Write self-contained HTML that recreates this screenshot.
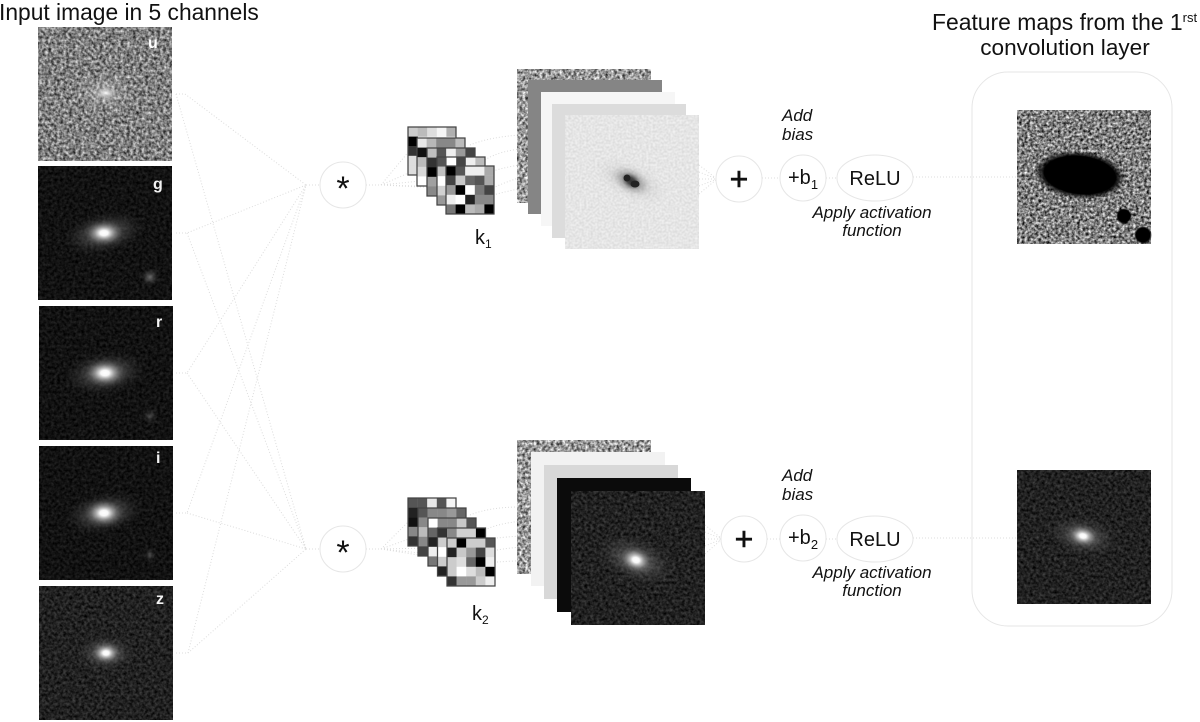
<!DOCTYPE html>
<html><head><meta charset="utf-8"><style>
html,body{margin:0;padding:0;background:#fff}
svg{display:block}
text{font-family:"Liberation Sans",sans-serif;fill:#111}
.c{width:1.02px;height:1.02px}
.d{stroke:#dcdcdc;stroke-width:1;stroke-dasharray:1 2;fill:none}
.o{fill:#fff;stroke:#e6e6e6;stroke-width:1}
.i{font-style:italic;font-size:17px}
.w{fill:#f4f4f4;font-weight:bold;font-size:16px}
.f{fill:none;stroke:#444;stroke-width:.13}
</style></head><body>
<svg width="1200" height="722" viewBox="0 0 1200 722" xmlns="http://www.w3.org/2000/svg">
<defs>
<filter id="nGray" x="0" y="0" width="1" height="1" color-interpolation-filters="sRGB"><feTurbulence type="fractalNoise" baseFrequency=".33" numOctaves="2" seed="3"/><feColorMatrix type="matrix" values="1.1 0 0 0 -.05 1.1 0 0 0 -.05 1.1 0 0 0 -.05 0 0 0 0 1"/></filter>
<filter id="nGray2" x="0" y="0" width="1" height="1" color-interpolation-filters="sRGB"><feTurbulence type="fractalNoise" baseFrequency=".35" numOctaves="2" seed="9"/><feColorMatrix type="matrix" values="1.3 0 0 0 -.05 1.3 0 0 0 -.05 1.3 0 0 0 -.05 0 0 0 0 1"/></filter>
<filter id="nDark" x="0" y="0" width="1" height="1" color-interpolation-filters="sRGB"><feTurbulence type="fractalNoise" baseFrequency=".33" numOctaves="2" seed="5"/><feColorMatrix type="matrix" values=".22 0 0 0 -.04 .22 0 0 0 -.04 .22 0 0 0 -.04 0 0 0 0 1"/></filter>
<filter id="nDark2" x="0" y="0" width="1" height="1" color-interpolation-filters="sRGB"><feTurbulence type="fractalNoise" baseFrequency=".33" numOctaves="2" seed="7"/><feColorMatrix type="matrix" values=".36 0 0 0 -.05 .36 0 0 0 -.05 .36 0 0 0 -.05 0 0 0 0 1"/></filter>
<filter id="nLight" x="0" y="0" width="1" height="1" color-interpolation-filters="sRGB"><feTurbulence type="fractalNoise" baseFrequency=".45" numOctaves="1" seed="11"/><feColorMatrix type="matrix" values=".16 0 0 0 .82 .16 0 0 0 .82 .16 0 0 0 .82 0 0 0 0 1"/></filter>
<filter id="nFeat" x="0" y="0" width="1" height="1" color-interpolation-filters="sRGB"><feTurbulence type="fractalNoise" baseFrequency=".36" numOctaves="2" seed="2"/><feColorMatrix type="matrix" values="1.4 0 0 0 -.2 1.4 0 0 0 -.2 1.4 0 0 0 -.2 0 0 0 0 1"/></filter>
<radialGradient id="glow"><stop offset="0" stop-color="#fff"/><stop offset=".2" stop-color="#fff" stop-opacity=".95"/><stop offset=".45" stop-color="#ccc" stop-opacity=".6"/><stop offset=".75" stop-color="#888" stop-opacity=".25"/><stop offset="1" stop-color="#555" stop-opacity="0"/></radialGradient>
<radialGradient id="halo"><stop offset="0" stop-color="#aaa" stop-opacity=".6"/><stop offset=".55" stop-color="#666" stop-opacity=".35"/><stop offset="1" stop-color="#333" stop-opacity="0"/></radialGradient>
<radialGradient id="blk"><stop offset="0" stop-color="#000"/><stop offset=".78" stop-color="#000"/><stop offset="1" stop-color="#000" stop-opacity="0"/></radialGradient>
<radialGradient id="dk"><stop offset="0" stop-color="#111"/><stop offset=".25" stop-color="#222" stop-opacity=".9"/><stop offset=".6" stop-color="#888" stop-opacity=".3"/><stop offset="1" stop-color="#aaa" stop-opacity="0"/></radialGradient>
<radialGradient id="spot"><stop offset="0" stop-color="#fff"/><stop offset=".3" stop-color="#ddd" stop-opacity=".8"/><stop offset="1" stop-color="#999" stop-opacity="0"/></radialGradient>
</defs>

<!-- headings -->
<text x="-1" y="20" font-size="22.8">Input image in 5 channels</text>
<text x="932" y="30" font-size="22.9">Feature maps from the 1<tspan font-size="13" dy="-8">rst</tspan></text>
<text x="1065" y="55" font-size="22.6" text-anchor="middle">convolution layer</text>

<!-- connectors: channels to hubs -->
<g class="d">
<path class="d" d="M176 94H185L306 185M176 94L306 549"/>
<path class="d" d="M176 233H187L306 185M187 233L306 549"/>
<path class="d" d="M176 373H187L306 185M187 373L306 549"/>
<path class="d" d="M176 513H187L306 185M187 513L306 549"/>
<path class="d" d="M176 653H188L306 185M188 653L306 549"/>
<path class="d" d="M306 185H321M306 549H321"/>
<path class="d" d="M366 185H381L410 150M381 185L420 168M381 185L430 180M381 185L440 188M381 185L450 187"/>
<path class="d" d="M366 549H381L410 520M381 549L420 535M381 549L430 548M381 549L440 555M381 549L450 560"/>
<path class="d" d="M470 145Q490 137 520 135M485 160Q500 150 530 148M490 172Q510 165 545 162M493 188Q520 175 555 170M493 195Q530 185 568 182"/>
<path class="d" d="M470 515Q490 507 520 507M485 530Q500 522 535 520M497 538Q515 536 548 534M497 550Q520 546 560 545M497 562Q530 560 575 558"/>
<path class="d" d="M699 165L717 179M699 172L717 179M699 179H717M699 186L717 179M699 194L717 179"/>
<path class="d" d="M705 525L722 539M705 532L722 539M705 539H722M705 546L722 539M705 554L722 539"/>
<path class="d" d="M762 178H781M826 178H838M913 177H1017M767 539H781M826 539H838M913 538H1017"/>
</g>

<!-- input channels -->
<rect x="38" y="27" width="134" height="134" filter="url(#nGray)"/>
<ellipse cx="105" cy="93" rx="34" ry="22" fill="url(#spot)" opacity=".4"/>
<ellipse cx="106" cy="93" rx="11" ry="6" fill="url(#spot)"/>
<text x="148" y="48" class="w" style="fill:#fff">u</text>

<rect x="38" y="166" width="134" height="134" filter="url(#nDark)"/>
<ellipse cx="104" cy="233" rx="42" ry="21" fill="url(#halo)" transform="rotate(-12 104 233)"/>
<ellipse cx="104" cy="233" rx="20" ry="13" fill="url(#glow)"/>
<circle cx="150" cy="277" r="9" fill="url(#halo)"/>
<text x="153" y="189" class="w">g</text>

<rect x="39" y="306" width="134" height="134" filter="url(#nDark)"/>
<ellipse cx="105" cy="373" rx="42" ry="22" fill="url(#halo)" transform="rotate(-8 105 373)"/>
<ellipse cx="105" cy="373" rx="21" ry="14" fill="url(#glow)"/>
<circle cx="150" cy="416" r="8" fill="url(#halo)" opacity=".6"/>
<text x="156" y="327" class="w">r</text>

<rect x="39" y="446" width="134" height="134" filter="url(#nDark)"/>
<ellipse cx="104" cy="513" rx="40" ry="21" fill="url(#halo)" transform="rotate(-10 104 513)"/>
<ellipse cx="104" cy="513" rx="20" ry="14" fill="url(#glow)"/>
<circle cx="150" cy="555" r="7" fill="url(#halo)" opacity=".6"/>
<text x="156" y="463" class="w">i</text>

<rect x="39" y="586" width="134" height="134" filter="url(#nDark2)"/>
<ellipse cx="106" cy="653" rx="30" ry="19" fill="url(#halo)"/>
<ellipse cx="106" cy="653" rx="15" ry="11" fill="url(#glow)"/>
<text x="156" y="604" class="w">z</text>

<!-- operator circles -->
<circle class="o" cx="343" cy="185" r="23"/>
<text x="343" y="200" font-size="34" text-anchor="middle">*</text>
<circle class="o" cx="343" cy="549" r="23"/>
<text x="343" y="564" font-size="34" text-anchor="middle">*</text>

<!-- kernels k1 -->
<g transform="translate(408 127) scale(9.6)"><rect width="5" height="5" fill="#fff"/>
<rect class="c" x="0" y="0" fill="#ccc"/><rect class="c" x="1" y="0" fill="#bbb"/><rect class="c" x="2" y="0" fill="#ddd"/><rect class="c" x="3" y="0" fill="#f5f5f5"/><rect class="c" x="4" y="0" fill="#b0b0b0"/>
<rect class="c" x="0" y="1" fill="#000"/><rect class="c" x="0" y="2" fill="#333"/><rect class="c" x="0" y="3" fill="#ddd"/><rect class="c" x="0" y="4" fill="#ddd"/><rect class="f" width="5" height="5"/></g>
<g transform="translate(417 138) scale(9.6)"><rect width="5" height="5" fill="#fff"/>
<rect class="c" x="0" y="0" fill="#e8e8e8"/><rect class="c" x="1" y="0" fill="#b8b8b8"/><rect class="c" x="2" y="0" fill="#888"/><rect class="c" x="3" y="0" fill="#888"/><rect class="c" x="4" y="0" fill="#bbb"/>
<rect class="c" x="0" y="1" fill="#111"/><rect class="c" x="0" y="2" fill="#bbb"/><rect class="c" x="0" y="3" fill="#d8d8d8"/><rect class="c" x="0" y="4" fill="#fff"/><rect class="f" width="5" height="5"/></g>
<g transform="translate(427 148) scale(9.6)"><rect width="5" height="5" fill="#fff"/>
<rect class="c" x="0" y="0" fill="#c0c0c0"/><rect class="c" x="1" y="0" fill="#555"/><rect class="c" x="2" y="0" fill="#eee"/><rect class="c" x="3" y="0" fill="#999"/><rect class="c" x="4" y="0" fill="#444"/>
<rect class="c" x="0" y="1" fill="#333"/><rect class="c" x="0" y="2" fill="#000"/><rect class="c" x="0" y="3" fill="#a0a0a0"/><rect class="c" x="0" y="4" fill="#888"/><rect class="f" width="5" height="5"/></g>
<g transform="translate(437 157) scale(9.6)"><rect width="5" height="5" fill="#fff"/>
<rect class="c" x="0" y="0" fill="#555"/><rect class="c" x="1" y="0" fill="#fff"/><rect class="c" x="2" y="0" fill="#444"/><rect class="c" x="3" y="0" fill="#eee"/><rect class="c" x="4" y="0" fill="#bbb"/>
<rect class="c" x="0" y="1" fill="#c0c0c0"/><rect class="c" x="0" y="2" fill="#fff"/><rect class="c" x="0" y="3" fill="#d0d0d0"/><rect class="c" x="0" y="4" fill="#999"/><rect class="f" width="5" height="5"/></g>
<g transform="translate(446 166) scale(9.6)"><rect width="5" height="5" fill="#fff"/>
<rect class="c" x="0" y="0" fill="#000"/><rect class="c" x="1" y="0" fill="#555"/><rect class="c" x="2" y="0" fill="#eee"/><rect class="c" x="3" y="0" fill="#eee"/><rect class="c" x="4" y="0" fill="#aaa"/>
<rect class="c" x="0" y="1" fill="#444"/><rect class="c" x="1" y="1" fill="#c8c8c8"/><rect class="c" x="2" y="1" fill="#666"/><rect class="c" x="3" y="1" fill="#555"/><rect class="c" x="4" y="1" fill="#aaa"/>
<rect class="c" x="0" y="2" fill="#999"/><rect class="c" x="1" y="2" fill="#000"/><rect class="c" x="2" y="2" fill="#fff"/><rect class="c" x="3" y="2" fill="#777"/><rect class="c" x="4" y="2" fill="#444"/>
<rect class="c" x="0" y="3" fill="#eee"/><rect class="c" x="1" y="3" fill="#fff"/><rect class="c" x="2" y="3" fill="#222"/><rect class="c" x="3" y="3" fill="#888"/><rect class="c" x="4" y="3" fill="#888"/>
<rect class="c" x="0" y="4" fill="#777"/><rect class="c" x="1" y="4" fill="#000"/><rect class="c" x="2" y="4" fill="#bbb"/><rect class="c" x="3" y="4" fill="#aaa"/><rect class="c" x="4" y="4" fill="#000"/><rect class="f" width="5" height="5"/></g>
<text x="475" y="244" font-size="20">k<tspan font-size="12" dy="4">1</tspan></text>

<!-- kernels k2 -->
<g transform="translate(408 498) scale(9.6)"><rect width="5" height="5" fill="#fff"/>
<rect class="c" x="0" y="0" fill="#555"/><rect class="c" x="1" y="0" fill="#555"/><rect class="c" x="2" y="0" fill="#e8e8e8"/><rect class="c" x="3" y="0" fill="#555"/><rect class="c" x="4" y="0" fill="#f5f5f5"/>
<rect class="c" x="0" y="1" fill="#222"/><rect class="c" x="0" y="2" fill="#111"/><rect class="c" x="0" y="3" fill="#888"/><rect class="c" x="0" y="4" fill="#333"/><rect class="f" width="5" height="5"/></g>
<g transform="translate(418 508) scale(9.6)"><rect width="5" height="5" fill="#fff"/>
<rect class="c" x="0" y="0" fill="#555"/><rect class="c" x="1" y="0" fill="#888"/><rect class="c" x="2" y="0" fill="#888"/><rect class="c" x="3" y="0" fill="#999"/><rect class="c" x="4" y="0" fill="#666"/>
<rect class="c" x="0" y="1" fill="#888"/><rect class="c" x="0" y="2" fill="#bbb"/><rect class="c" x="0" y="3" fill="#888"/><rect class="c" x="0" y="4" fill="#444"/><rect class="f" width="5" height="5"/></g>
<g transform="translate(428 518) scale(9.6)"><rect width="5" height="5" fill="#fff"/>
<rect class="c" x="0" y="0" fill="#fff"/><rect class="c" x="1" y="0" fill="#888"/><rect class="c" x="2" y="0" fill="#888"/><rect class="c" x="3" y="0" fill="#c8c8c8"/><rect class="c" x="4" y="0" fill="#555"/>
<rect class="c" x="0" y="1" fill="#666"/><rect class="c" x="0" y="2" fill="#222"/><rect class="c" x="0" y="3" fill="#eee"/><rect class="c" x="0" y="4" fill="#777"/><rect class="f" width="5" height="5"/></g>
<g transform="translate(437.5 528) scale(9.6)"><rect width="5" height="5" fill="#fff"/>
<rect class="c" x="0" y="0" fill="#333"/><rect class="c" x="1" y="0" fill="#888"/><rect class="c" x="2" y="0" fill="#d0d0d0"/><rect class="c" x="3" y="0" fill="#d0d0d0"/><rect class="c" x="4" y="0" fill="#000"/>
<rect class="c" x="0" y="1" fill="#ccc"/><rect class="c" x="0" y="2" fill="#fff"/><rect class="c" x="0" y="3" fill="#ccc"/><rect class="c" x="0" y="4" fill="#222"/><rect class="f" width="5" height="5"/></g>
<g transform="translate(447 538) scale(9.6)"><rect width="5" height="5" fill="#fff"/>
<rect class="c" x="0" y="0" fill="#ccc"/><rect class="c" x="1" y="0" fill="#000"/><rect class="c" x="2" y="0" fill="#ccc"/><rect class="c" x="3" y="0" fill="#ccc"/><rect class="c" x="4" y="0" fill="#555"/>
<rect class="c" x="0" y="1" fill="#222"/><rect class="c" x="1" y="1" fill="#c8c8c8"/><rect class="c" x="2" y="1" fill="#999"/><rect class="c" x="3" y="1" fill="#444"/><rect class="c" x="4" y="1" fill="#ddd"/>
<rect class="c" x="0" y="2" fill="#ccc"/><rect class="c" x="1" y="2" fill="#ddd"/><rect class="c" x="2" y="2" fill="#666"/><rect class="c" x="3" y="2" fill="#000"/><rect class="c" x="4" y="2" fill="#eee"/>
<rect class="c" x="0" y="3" fill="#ccc"/><rect class="c" x="1" y="3" fill="#fff"/><rect class="c" x="2" y="3" fill="#ddd"/><rect class="c" x="3" y="3" fill="#bbb"/><rect class="c" x="4" y="3" fill="#000"/>
<rect class="c" x="0" y="4" fill="#333"/><rect class="c" x="1" y="4" fill="#999"/><rect class="c" x="2" y="4" fill="#999"/><rect class="c" x="3" y="4" fill="#ccc"/><rect class="c" x="4" y="4" fill="#eee"/><rect class="f" width="5" height="5"/></g>
<text x="472" y="620" font-size="20">k<tspan font-size="12" dy="4">2</tspan></text>

<!-- stack 1 -->
<rect x="517" y="69" width="134" height="134" filter="url(#nGray2)"/>
<rect x="528" y="80" width="134" height="134" fill="#858585"/>
<rect x="541" y="92" width="134" height="134" fill="#f6f6f6"/>
<rect x="552" y="104" width="134" height="134" fill="#dcdcdc"/>
<rect x="565" y="115" width="134" height="134" filter="url(#nLight)"/>
<ellipse cx="631" cy="181" rx="40" ry="20" fill="url(#dk)" opacity=".3" transform="rotate(25 631 181)"/>
<ellipse cx="631" cy="181" rx="18" ry="13" fill="url(#dk)" transform="rotate(35 631 181)" opacity=".8"/>
<ellipse cx="627" cy="178" rx="3.5" ry="3.5" fill="#222"/><ellipse cx="635" cy="184" rx="4.5" ry="3.5" fill="#222"/>

<!-- stack 2 -->
<rect x="517" y="440" width="134" height="134" filter="url(#nGray2)"/>
<rect x="531" y="452" width="134" height="134" fill="#f2f2f2"/>
<rect x="544" y="465" width="134" height="134" fill="#d8d8d8"/>
<rect x="557" y="478" width="134" height="134" fill="#0b0b0b"/>
<rect x="571" y="491" width="134" height="134" filter="url(#nDark2)"/>
<ellipse cx="636" cy="560" rx="42" ry="23" fill="url(#halo)" transform="rotate(20 636 560)"/>
<ellipse cx="636" cy="560" rx="17" ry="13" fill="url(#glow)" transform="rotate(20 636 560)"/>

<!-- row 1 ops -->
<circle class="o" cx="739" cy="179" r="23"/>
<text x="739" y="190" font-size="32" text-anchor="middle" stroke="#111" stroke-width=".6">+</text>
<circle class="o" cx="803" cy="178" r="23"/>
<text x="788" y="184" font-size="20">+b<tspan font-size="13" dy="5">1</tspan></text>
<ellipse class="o" cx="875" cy="178" rx="38" ry="23"/>
<text x="875" y="185" font-size="20" text-anchor="middle">ReLU</text>
<text x="782" y="121" class="i">Add</text>
<text x="782" y="140" class="i">bias</text>
<text x="872" y="218" class="i" text-anchor="middle">Apply activation</text>
<text x="872" y="236" class="i" text-anchor="middle">function</text>

<!-- row 2 ops -->
<circle class="o" cx="744" cy="539" r="23"/>
<text x="744" y="550" font-size="32" text-anchor="middle" stroke="#111" stroke-width=".6">+</text>
<circle class="o" cx="803" cy="538" r="23"/>
<text x="788" y="544" font-size="20">+b<tspan font-size="13" dy="5">2</tspan></text>
<ellipse class="o" cx="875" cy="539" rx="38" ry="23"/>
<text x="875" y="546" font-size="20" text-anchor="middle">ReLU</text>
<text x="782" y="481" class="i">Add</text>
<text x="782" y="500" class="i">bias</text>
<text x="872" y="578" class="i" text-anchor="middle">Apply activation</text>
<text x="872" y="596" class="i" text-anchor="middle">function</text>

<!-- feature map panel -->
<rect x="972" y="72" width="200" height="554" rx="36" ry="36" fill="none" stroke="#e6e6e6"/>
<rect x="1017" y="110" width="134" height="134" filter="url(#nFeat)"/>
<ellipse cx="1080" cy="175" rx="46" ry="24" fill="url(#blk)" transform="rotate(6 1080 175)"/>
<circle cx="1124" cy="216" r="8" fill="url(#blk)"/>
<circle cx="1143" cy="235" r="9" fill="url(#blk)"/>
<rect x="1017" y="470" width="134" height="134" filter="url(#nDark2)"/>
<ellipse cx="1083" cy="536" rx="36" ry="20" fill="url(#halo)" transform="rotate(12 1083 536)"/>
<ellipse cx="1083" cy="536" rx="16" ry="11" fill="url(#glow)" transform="rotate(12 1083 536)"/>
</svg>
</body></html>
